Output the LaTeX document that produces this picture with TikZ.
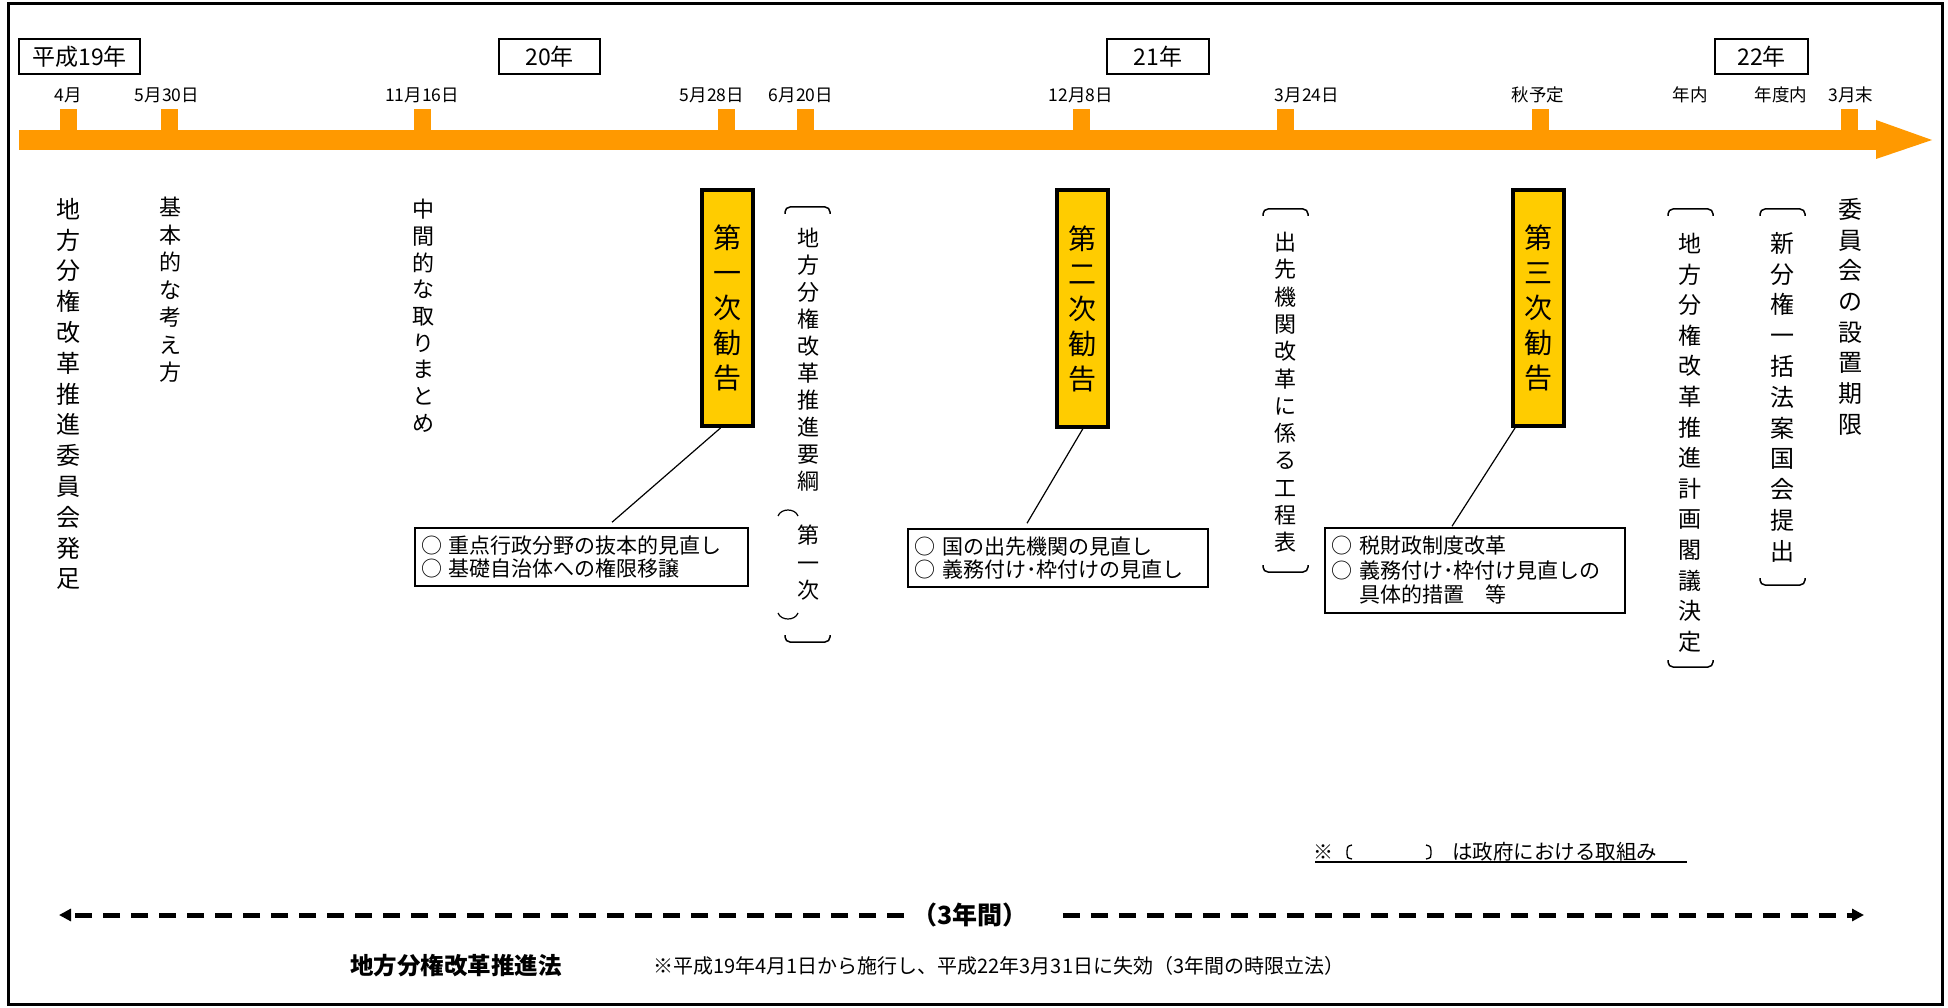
\documentclass[tikz,border=0pt]{standalone}
\usepackage{fontspec}
\setmainfont{Noto Sans CJK JP}
\usetikzlibrary{arrows.meta}
\definecolor{tlorange}{RGB}{255,153,0}
\definecolor{kyellow}{RGB}{255,204,0}
\newcommand\fs[1]{\fontsize{#1}{#1}\selectfont}
\ExplSyntaxOn
\NewDocumentCommand \VT { m m }
  {
    \vbox:n
      {
        \skip_set:Nn \baselineskip {#1}
        \skip_set:Nn \lineskip {0pt}
        \dim_set:Nn \lineskiplimit {-100pt}
        \tl_map_inline:nn {#2} { \hbox_to_wd:nn {1.1em} { \hss ##1 \hss } }
      }
  }
\ExplSyntaxOff
\tikzset{
  yearbox/.style={draw, line width=2pt, inner sep=0pt, minimum height=35pt, font=\fs{23}},
  lbl/.style={inner sep=0pt, font=\fs{17.5}},
  tickmark/.style={fill=tlorange},
  kbox/.style={draw, line width=4pt, fill=kyellow, minimum width=51pt, minimum height=236pt, inner sep=0pt},
  vtxt/.style={inner sep=0pt, anchor=north},
  infobox/.style={draw, line width=1.5pt, inner xsep=6pt, inner ysep=0pt, align=left, font=\fontsize{21}{23.5}\selectfont},
  conn/.style={line width=1.2pt},
  brk/.style={line width=1.5pt, rounded corners=5pt},
  dasharrow/.style={line width=5pt, dash pattern=on 17pt off 11pt},
  tipstyle/.style={-{Triangle[length=12pt,width=12pt]}},
}
\begin{document}
\begin{tikzpicture}[x=1pt,y=-1pt]
\useasboundingbox (0,0) rectangle (1948,1008);
\draw[line width=3pt] (8,4) rectangle (1942,1004);

% timeline bar
\fill[tlorange] (19,130) rectangle (1877,150);
\fill[tlorange] (1876,120) -- (1932,140) -- (1876,159) -- cycle;
\foreach \x in {68.5,169.5,422.5,726.5,805.5,1081.5,1285.5,1540.5,1849.5}
  \fill[tickmark] (\x-8.5,109) rectangle (\x+8.5,131);

% date labels
\node[lbl] (d1) at (68,95) {4月};
\node[lbl] (d2) at (167,95) {5月30日};
\node[lbl] (d3) at (422,95) {11月16日};
\node[lbl] (d4) at (712,95) {5月28日};
\node[lbl] (d5) at (801,95) {6月20日};
\node[lbl] (d6) at (1081,95) {12月8日};
\node[lbl] (d7) at (1307,95) {3月24日};
\node[lbl] (d8) at (1538,95) {秋予定};
\node[lbl] (d9) at (1690,95) {年内};
\node[lbl] (d10) at (1781,95) {年度内};
\node[lbl] (d11) at (1851,95) {3月末};

% year boxes
\node[yearbox, minimum width=121pt] (y19) at (79.5,56.5) {平成19年};
\node[yearbox, minimum width=101pt] (y20) at (549.5,56.5) {20年};
\node[yearbox, minimum width=102pt] (y21) at (1158,56.5) {21年};
\node[yearbox, minimum width=93pt] (y22) at (1761.5,56.5) {22年};

% vertical texts
\node[vtxt] (v1) at (68,198) {\fs{24}\VT{30.8pt}{地方分権改革推進委員会発足}};
\node[vtxt] (v2) at (170,197) {\fs{22}\VT{27.5pt}{基本的な考え方}};
\node[vtxt] (v3) at (423,199) {\fs{22}\VT{26.7pt}{中間的な取りまとめ}};

% recommendation boxes
\node[kbox] (k1) at (727.5,308) {\fs{28}\VT{35pt}{第一次勧告}};
\node[kbox] (k2) at (1082.5,308.5) {\fs{28}\VT{35pt}{第二次勧告}};
\node[kbox] (k3) at (1538.5,308) {\fs{28}\VT{35pt}{第三次勧告}};

% info boxes
\node[infobox, minimum width=333pt, minimum height=58pt, text width=321pt] (b1) at (581.5,557)
  {○ 重点行政分野の抜本的見直し\\○ 基礎自治体への権限移譲};
\node[infobox, minimum width=300pt, minimum height=58pt, text width=288pt] (b2) at (1058,558)
  {○ 国の出先機関の見直し\\○ 義務付け･枠付けの見直し};
\node[infobox, minimum width=300pt, minimum height=85pt, text width=288pt, font=\fontsize{21}{24.5}\selectfont] (b3) at (1475,570.5)
  {○ 税財政制度改革\\○ 義務付け･枠付け見直しの\\\phantom{○ }具体的措置　等};

% connectors
\draw[conn] ([xshift=-7pt]k1.south) -- ([xshift=30.5pt,yshift=5pt]b1.north);
\draw[conn] ([xshift=0.5pt]k2.south) -- ([xshift=-31pt,yshift=5pt]b2.north);
\draw[conn] ([xshift=-23.5pt]k3.south) -- ([xshift=-23pt,yshift=1pt]b3.north);

% bracketed government actions
\node[vtxt] (v4) at (808,228) {\fs{22}\VT{27pt}{地方分権改革推進要綱}};
\node[vtxt] (v4b) at (808,525) {\fs{22}\VT{27.5pt}{第一次}};
\draw[conn] (778,516) .. controls (781,508) and (795,508) .. (798,516);
\draw[conn] (778,613) .. controls (781,621) and (795,621) .. (798,613);
\draw[brk] (785,214) -- (785,207) -- (830,207) -- (830,214);
\draw[brk] (785,635) -- (785,642) -- (830,642) -- (830,635);

\node[vtxt] (v5) at (1285,232) {\fs{22}\VT{27.3pt}{出先機関改革に係る工程表}};
\draw[brk] (1263,216) -- (1263,209) -- (1308,209) -- (1308,216);
\draw[brk] (1263,565) -- (1263,572) -- (1308,572) -- (1308,565);

\node[vtxt] (v6) at (1690,233) {\fs{23}\VT{30.6pt}{地方分権改革推進計画閣議決定}};
\draw[brk] (1668,216) -- (1668,209) -- (1713,209) -- (1713,216);
\draw[brk] (1668,660) -- (1668,667) -- (1713,667) -- (1713,660);

\node[vtxt] (v7) at (1782,232) {\fs{24}\VT{30.8pt}{新分権一括法案国会提出}};
\draw[brk] (1760,216) -- (1760,209) -- (1805,209) -- (1805,216);
\draw[brk] (1760,578) -- (1760,585) -- (1805,585) -- (1805,578);

\node[vtxt] (v8) at (1850,198) {\fs{24}\VT{30.7pt}{委員会の設置期限}};

% footnote
\node[anchor=base west, inner sep=0pt, font=\fs{20}] (fn1) at (1313,859) {※};
\node[anchor=base west, inner sep=0pt, font=\fs{20.5}] (fn2) at (1452,859) {は政府における取組み};
\draw[line width=1.3pt] (1352,845) .. controls (1347,846) and (1347,848) .. (1347,851) -- (1347,854) .. controls (1347,857) and (1347,858) .. (1352,859);
\draw[line width=1.3pt] (1426,845) .. controls (1431,846) and (1431,848) .. (1431,851) -- (1431,854) .. controls (1431,857) and (1431,858) .. (1426,859);
\draw[line width=2pt] (1315,862) -- (1687,862);

% period arrow
\coordinate (pl) at (59,915);
\coordinate (pr) at (1864,915);
\node[inner sep=0pt, font=\bfseries\fs{25}] (period) at (970,915) {（3年間）};
\draw[dasharrow, tipstyle] ([xshift=-8pt]period.west) -- (pl);
\draw[dasharrow, tipstyle] ([xshift=35pt]period.east) -- (pr);

% law
\node[anchor=west, inner sep=0pt, font=\bfseries\fs{23.5}] (law) at (350,966) {地方分権改革推進法};
\node[anchor=west, inner sep=0pt, font=\fs{20}] (lawnote) at (653,966) {※平成19年4月1日から施行し、平成22年3月31日に失効（3年間の時限立法）};
\end{tikzpicture}
\end{document}
